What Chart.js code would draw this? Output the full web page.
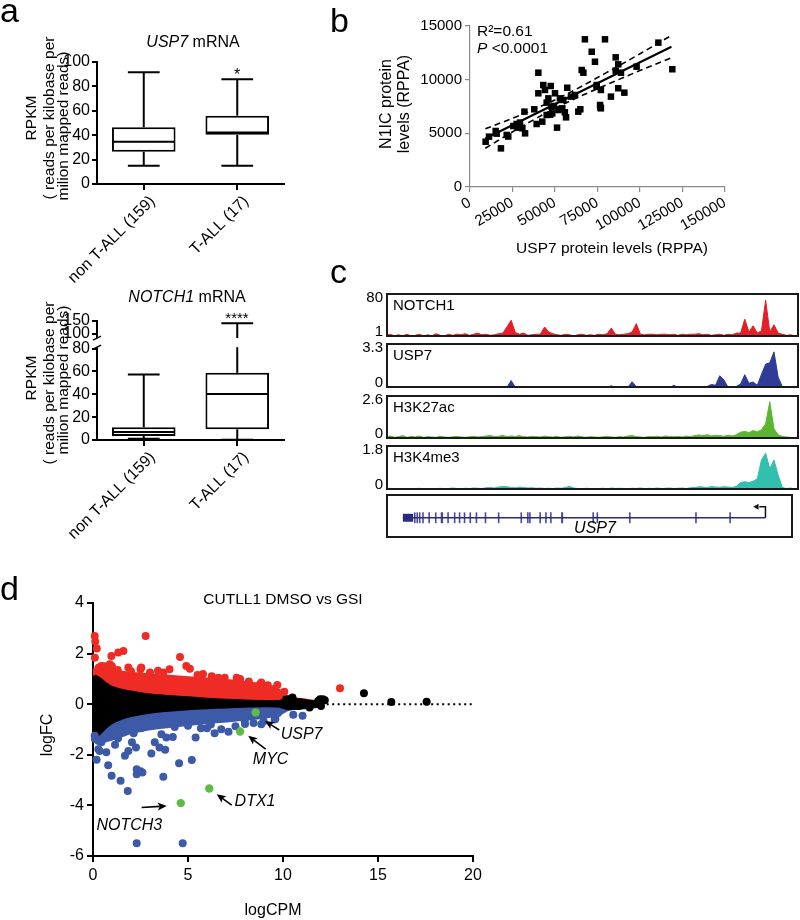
<!DOCTYPE html>
<html>
<head>
<meta charset="utf-8">
<title>USP7 / NOTCH1 figure</title>
<script src="https://cdn.jsdelivr.net/npm/chart.js@4.4.1/dist/chart.umd.min.js"></script>
<style>
  html, body { margin: 0; padding: 0; background: #fff; }
  #page { position: relative; width: 800px; height: 920px; overflow: hidden; background: #fff; }
  #page canvas { position: absolute; }
</style>
</head>
<body>
<div id="page"></div>
<script>
// ---------- panel a : box plots ----------
const groups = ['non T-ALL (159)', 'T-ALL (17)'];
const usp7Min = [15, 15];
const usp7Q1 = [26.5, 40.3];
const usp7Med = [34.7, 42.3];
const usp7Q3 = [46.5, 56];
const usp7Max = [91.5, 85.8];

const notchMin = [1, 0.3];
const notchQ1 = [3.5, 9.4];
const notchMed = [7, 40.2];
const notchQ3 = [11.1, 58.8];
const notchMax = [57.3, 141];
const notchTicks = [0, 20, 40, 60, 80, 100, 150];

// ---------- panel b : RPPA scatter ----------
const rppaPts = [
  [9200,4220],[11200,4690],[15100,5220],[15700,4970],[18200,3600],[21600,4850],[22500,4700],
  [25500,5680],[27400,5870],[28000,5530],[29400,6000],[30800,5470],[32400,5000],[32000,7020],
  [37800,7240],[39200,5870],[42500,6090],[40200,10650],[43100,9500],[44100,9040],[47500,9410],
  [40200,8730],[46100,8260],[45100,7860],[45100,6710],[48000,7480],[50000,8730],[49400,7550],
  [48400,6860],[47200,6740],[52900,8260],[52000,7170],[54300,7330],[54900,8110],[55800,6960],
  [56500,6490],[57200,9250],[51200,5530],[59400,8420],[61800,8570],[63700,7020],[64900,7240],
  [65700,10900],[66700,10650],[67600,13760],[71600,12600],[73500,11670],[74500,9340],[74500,9500],
  [76700,7420],[77000,7330],[76500,7640],[77000,9040],[79400,13760],[82900,8420],[85700,12080],
  [87200,11430],[85700,10840],[88800,10650],[87200,9200],[90800,8790],[98000,11210],
  [110800,13450],[119000,10970]
];
const fitX = [9000, 118500];
const fitY = [4514, 13077];
const bandX = [9000, 30000, 55000, 80000, 100000, 118500];
const bandUpper = [5420, 6720, 8500, 10630, 12410, 14130];
const bandLower = [3610, 5600, 7720, 9500, 10850, 12030];

// ---------- panel c : ChIP-seq tracks (100 bins across the locus) ----------
const notch1Signal = [
  4,6,3,5,3,6,3,4,6,3, 5,3,7,4,3,6,4,6,5,7, 4,6,8,5,6,4,5,7,8,19, 31,9,6,8,4,5,6,6,19,10,
  7,5,4,6,5,3,5,6,4,5, 4,6,5,7,17,6,5,6,7,10, 25,6,5,6,6,5,6,6,5,6, 4,6,5,6,6,7,5,6,4,5,
  6,4,6,5,8,8,33,10,21,8, 12,67,10,23,8,6,4,5,3,4
];
const usp7Signal = [
  .06,.05,.07,.04,.05,.03,.03,.05,.02,.03, .02,.03,.02,.02,.03,.02,.02,.04,.02,.03,
  .02,.02,.03,.02,.02,.04,.02,.02,.03,.05, .55,.05,.02,.02,.02,.03,.02,.02,.02,.02,
  .02,.02,.03,.02,.02,.02,.02,.03,.02,.02, .02,.02,.03,.02,.17,.03,.02,.03,.06,.46,
  .1,.05,.02,.02,.03,.02,.02,.03,.02,.2, .03,.05,.1,.06,.08,.03,.04,.12,.26,.2,
  .9,.6,.05,.04,.12,.3,.98,.35,.44,.2, 1.0,1.75,1.85,2.65,.8,.1,.03,.02,.02,.1
];
const h3k27acSignal = [
  .12,.18,.1,.14,.2,.1,.15,.12,.17,.1, .14,.12,.1,.16,.12,.1,.13,.15,.12,.1,
  .13,.16,.12,.14,.18,.2,.15,.16,.22,.14, .18,.15,.2,.13,.12,.16,.14,.12,.17,.14,
  .12,.15,.1,.13,.16,.12,.18,.13,.1,.14, .12,.1,.13,.15,.12,.1,.14,.12,.18,.2,
  .14,.12,.1,.15,.13,.16,.12,.18,.14,.13, .15,.12,.18,.14,.2,.24,.2,.25,.18,.22,
  .2,.16,.22,.18,.25,.4,.45,.38,.5,.42, .55,.9,2.2,.6,.25,.15,.12,.1,.08,.12
];
const h3k4me3Signal = [
  .05,.07,.04,.06,.05,.04,.06,.05,.07,.05, .04,.06,.05,.07,.05,.06,.08,.06,.05,.07,
  .06,.08,.07,.06,.09,.1,.08,.12,.14,.13, .1,.09,.12,.1,.08,.09,.07,.08,.06,.07,
  .06,.08,.07,.1,.15,.08,.06,.05,.07,.06, .05,.06,.07,.05,.08,.06,.07,.06,.05,.07,
  .06,.08,.05,.07,.06,.08,.06,.07,.08,.06, .07,.08,.06,.09,.1,.13,.12,.1,.14,.12,
  .11,.13,.12,.1,.15,.3,.33,.3,.35,.45, 1.2,1.47,.85,1.2,.6,.1,.06,.08,.04,.05
];
// gene model, same bin units
const exonPos = [7.0,7.6,8.2,9.0,10.5,12.1,13.5,13.7,15.1,16.7,17.9,19.1,20.5,22.0,24.2,27.4,
  32.9,34.5,35.0,37.5,38.9,40.1,42.8,42.9,50.4,51.4,59.3,75.4,83.7];
const utrSpan = [4.1, 6.6];
const geneSpan = [4.1, 92.3];
const tssArrowTip = 90.2;

// ---------- panel d : MA plot ----------
const envX     = [0, 0.15, 0.4, 0.7, 1, 1.5, 2, 3, 4, 5, 6, 7, 8, 9, 9.8, 10.3, 10.8, 11.4, 12.1];
const blackTop = [1.05, 1.12, 1.0, 0.82, 0.68, 0.57, 0.5, 0.38, 0.32, 0.27, 0.22, 0.18, 0.15, 0.13, 0.13, 0.22, 0.2, 0.14, 0.08];
const blackBot = [-1.2, -1.28, -1.15, -0.92, -0.75, -0.58, -0.47, -0.34, -0.26, -0.2, -0.16, -0.13, -0.1, -0.08, -0.1, -0.2, -0.17, -0.13, -0.06];
const redTop   = [1.35, 1.4, 1.42, 1.38, 1.32, 1.27, 1.22, 1.16, 1.1, 1.05, 1.0, 0.94, 0.86, 0.74, 0.55, 0.22, 0.2, 0.14, 0.08];
const blueBot  = [-1.4, -1.5, -1.5, -1.45, -1.38, -1.25, -1.12, -0.97, -0.88, -0.8, -0.73, -0.66, -0.6, -0.52, -0.4, -0.2, -0.17, -0.13, -0.06];
const upGenes = [
  [0.09,2.7],[0.12,2.48],[0.2,2.2],[0.1,1.84],[0.44,1.51],[0.88,1.58],[0.97,1.91],[1.33,2.04],[1.6,2.1],
  [1.0,1.5],[1.86,1.45],[2.5,1.38],[2.54,1.45],[2.77,2.7],[3.42,1.32],[4.03,1.38],[4.58,1.87],[4.91,1.51],
  [5.1,1.4],[5.79,1.19],[6.25,1.1],[6.93,1.05],[7.56,1.05],[7.74,1.0],[8.79,0.79],[8.86,0.86],[9.7,0.76],
  [10.07,0.49],[13.0,0.63],[0.3,1.45],[0.6,1.5],[1.3,1.35],[2.0,1.3],[3.0,1.25],[3.7,1.25],[5.5,1.15],
  [6.6,1.05],[8.2,0.9],[9.2,0.75],[9.5,0.6]
];
const downGenes = [
  [0.09,-1.25],[0.1,-1.38],[0.3,-1.45],[0.28,-1.78],[0.19,-2.2],[0.35,-1.85],[0.44,-1.5],[0.7,-1.9],
  [0.8,-2.41],[0.85,-1.3],[0.98,-2.83],[1.16,-1.6],[1.32,-1.35],[1.45,-3.03],[1.68,-2.04],[1.83,-3.43],
  [1.86,-1.85],[2.05,-1.5],[2.14,-1.15],[2.26,-1.71],[2.3,-2.57],[2.3,-2.77],[2.5,-2.65],[2.6,-2.7],
  [2.3,-5.5],[2.54,-0.95],[3.07,-1.95],[3.07,-0.85],[3.25,-1.5],[3.5,-1.71],[3.6,-1.19],[3.7,-2.87],
  [3.8,-1.8],[3.86,-1.32],[4.2,-1.3],[4.3,-0.9],[4.53,-2.33],[4.72,-5.5],[5.0,-0.85],[5.2,-2.21],
  [5.4,-1.32],[5.68,-0.95],[6.0,-0.95],[6.2,-0.8],[6.4,-1.15],[6.75,-0.99],[7.13,-1.09],[7.5,-0.87],
  [7.98,-0.65],[8.0,-0.78],[8.45,-0.74],[8.86,-0.79],[8.98,-0.67],[9.56,-0.6],[9.6,-0.58],[9.74,-0.35],
  [10.54,-0.42],[11.03,-0.46]
];
const flatGenes = [[10.17,0.2],[10.3,0.2],[10.5,0.26],[10.8,-0.07],[10.95,0.07],[11.4,0],[11.4,-0.13],
  [11.85,0.13],[11.95,0.2],[12.0,-0.07],[12.1,0.2],[12.2,0.16],[14.26,0.43],[15.7,0.09],[17.56,0.1]];
const markedNames = ['USP7', 'MYC', 'DTX1', 'NOTCH3'];
const markedGenes = [[8.56,-0.33],[7.74,-1.08],[6.12,-3.33],[4.62,-3.91]];

// ---------- shared setup ----------
const FONT = "'Liberation Sans', Arial, Helvetica, sans-serif";
Chart.defaults.font.family = FONT;
Chart.defaults.color = '#000';
Chart.defaults.animation = false;
Chart.defaults.responsive = false;
Chart.defaults.plugins.legend.display = false;
Chart.defaults.plugins.tooltip.enabled = false;

const page = document.getElementById('page');
// canvas at page position; notes (text) are kept on the canvas itself
function place(left, top, w, h, notes) {
  const c = document.createElement('canvas');
  c.width = w; c.height = h;
  c.style.left = left + 'px'; c.style.top = top + 'px';
  c.pageLeft = left; c.pageTop = top;
  c.notes = notes || [];
  page.appendChild(c);
  return c;
}
const xy = pts => pts.map(p => ({ x: p[0], y: p[1] }));

// text in page coordinates (pos) or data coordinates (at)
const notesPlugin = {
  id: 'notes',
  afterDraw(chart) {
    const items = chart.canvas.notes;
    if (!items || !items.length) return;
    const ctx = chart.ctx;
    items.forEach(n => {
      let x, y;
      if (n.at) { x = chart.scales.x.getPixelForValue(n.at[0]); y = chart.scales.y.getPixelForValue(n.at[1]); }
      else { x = n.pos[0] - chart.canvas.pageLeft; y = n.pos[1] - chart.canvas.pageTop; }
      ctx.save();
      ctx.translate(x, y);
      if (n.rot) ctx.rotate(n.rot * Math.PI / 180);
      ctx.fillStyle = '#000';
      ctx.textBaseline = n.base || 'middle';
      ctx.textAlign = 'left';
      const size = n.size || 16;
      const runs = typeof n.text === 'string' ? [[n.text, n.italic]] : n.text;
      const fonts = runs.map(r => (r[1] ? 'italic ' : '') + size + 'px ' + FONT);
      const widths = runs.map((r, i) => { ctx.font = fonts[i]; return ctx.measureText(r[0]).width; });
      const total = widths.reduce((s, w) => s + w, 0);
      let cx = n.align === 'left' ? 0 : (n.align === 'right' ? -total : -total / 2);
      runs.forEach((r, i) => { ctx.font = fonts[i]; ctx.fillText(r[0], cx, 0); cx += widths[i]; });
      ctx.restore();
    });
  }
};

// whiskers + medians on top of floating bars
const whiskers = {
  id: 'whiskers',
  afterDatasetsDraw(chart, args, o) {
    if (!o.med) return;
    const ctx = chart.ctx, y = chart.scales.y;
    const f = o.map || (v => v);
    const py = v => y.getPixelForValue(f(v));
    const seg = (x1, y1, x2, y2) => { ctx.beginPath(); ctx.moveTo(x1, y1); ctx.lineTo(x2, y2); ctx.stroke(); };
    ctx.save();
    ctx.strokeStyle = '#000'; ctx.lineWidth = 2;
    chart.getDatasetMeta(0).data.forEach((bar, i) => {
      const cx = bar.x, hw = bar.width / 2, cap = hw / 2;
      seg(cx, py(o.q3[i]), cx, py(o.max[i]));
      seg(cx, py(o.q1[i]), cx, py(o.min[i]));
      seg(cx - cap, py(o.max[i]), cx + cap, py(o.max[i]));
      seg(cx - cap, py(o.min[i]), cx + cap, py(o.min[i]));
      seg(cx - hw + 1, py(o.med[i]), cx + hw - 1, py(o.med[i]));
    });
    ctx.restore();
  }
};

// broken y axis (white gap + marks)
const axisBreak = {
  id: 'axisBreak',
  afterDraw(chart, args, o) {
    if (!o.gap) return;
    const { ctx, chartArea: a, scales: { y } } = chart;
    const yHi = y.getPixelForValue(o.map(o.gap[1])), yLo = y.getPixelForValue(o.map(o.gap[0]));
    ctx.save();
    ctx.fillStyle = '#fff';
    ctx.fillRect(a.left - 3, yHi, a.right - a.left + 3, yLo - yHi);
    ctx.strokeStyle = '#000'; ctx.lineWidth = 1.5;
    [yHi, yLo].forEach(yy => { ctx.beginPath(); ctx.moveTo(a.left - 4, yy + 2); ctx.lineTo(a.left + 4, yy - 2); ctx.stroke(); });
    ctx.restore();
  }
};

// frame + range labels for genome tracks
const trackFrame = {
  id: 'trackFrame',
  afterDraw(chart, args, o) {
    if (!o.frame) return;
    const { ctx, chartArea: a } = chart;
    ctx.save();
    ctx.strokeStyle = '#1a1a1a'; ctx.lineWidth = 2;
    ctx.strokeRect(a.left + 1, a.top + 1, a.width - 2, a.height - 2);
    ctx.fillStyle = '#000'; ctx.font = '15px ' + FONT;
    if (o.name) {
      ctx.textBaseline = 'top'; ctx.textAlign = 'left';
      ctx.fillText(o.name, a.left + 7, a.top + 5);
      const y = chart.scales.y;
      ctx.textAlign = 'right'; ctx.textBaseline = 'middle';
      ctx.fillText(String(y.max), a.left - 3, a.top + 5);
      ctx.fillText(String(y.min), a.left - 3, a.bottom - 5);
    }
    ctx.restore();
  }
};

// annotation arrows in data coordinates
const arrows = {
  id: 'arrows',
  afterDatasetsDraw(chart, args, o) {
    if (!o.list) return;
    const { ctx, scales: { x, y } } = chart;
    ctx.save();
    ctx.strokeStyle = '#000'; ctx.fillStyle = '#000'; ctx.lineWidth = 1.6;
    o.list.forEach(([from, to]) => {
      const x1 = x.getPixelForValue(from[0]), y1 = y.getPixelForValue(from[1]);
      const x2 = x.getPixelForValue(to[0]), y2 = y.getPixelForValue(to[1]);
      const ang = Math.atan2(y2 - y1, x2 - x1);
      const hx = x2 - 7 * Math.cos(ang), hy = y2 - 7 * Math.sin(ang);
      ctx.beginPath(); ctx.moveTo(x1, y1); ctx.lineTo(hx, hy); ctx.stroke();
      ctx.beginPath();
      ctx.moveTo(x2, y2);
      ctx.lineTo(x2 - 9 * Math.cos(ang) + 4 * Math.sin(ang), y2 - 9 * Math.sin(ang) - 4 * Math.cos(ang));
      ctx.lineTo(hx, hy);
      ctx.lineTo(x2 - 9 * Math.cos(ang) - 4 * Math.sin(ang), y2 - 9 * Math.sin(ang) + 4 * Math.cos(ang));
      ctx.closePath(); ctx.fill();
    });
    ctx.restore();
  }
};
Chart.register(notesPlugin, whiskers, axisBreak, trackFrame, arrows);

const blackAxis = {
  border: { display: true, color: '#000', width: 2 },
  grid: { display: true, drawOnChartArea: false, drawTicks: true, tickLength: 5, lineWidth: 2, color: '#000', offset: false }
};

// ---------- panel a ----------
function boxChart(box, area, st, yOpts, notes, brkOpts) {
  const [left, top, w, h] = box;
  const map = st.map || (v => v);
  return new Chart(place(left, top, w, h, notes), {
    type: 'bar',
    data: {
      labels: groups,
      datasets: [{
        data: st.q1.map((q, i) => [map(q), map(st.q3[i])]),
        backgroundColor: '#fff', borderColor: '#000', borderWidth: 2, borderSkipped: false,
        barPercentage: 0.68, categoryPercentage: 1
      }]
    },
    options: {
      layout: { padding: { top: area.top - top, right: left + w - area.right, left: 0, bottom: 0 } },
      plugins: { whiskers: st, axisBreak: brkOpts || {} },
      scales: {
        x: Object.assign({}, blackAxis, {
          grid: Object.assign({}, blackAxis.grid, { tickLength: 6 }),
          ticks: { font: { size: 16 }, minRotation: 45, maxRotation: 45, padding: 2, labelOffset: 9 },
          afterFit: s => { s.height = top + h - area.bottom; }
        }),
        y: Object.assign({}, blackAxis, yOpts, {
          afterFit: s => { s.width = area.left - left; }
        })
      }
    }
  });
}

boxChart([0, 0, 300, 300], { left: 97, top: 62, right: 284, bottom: 184 },
  { q1: usp7Q1, q3: usp7Q3, med: usp7Med, min: usp7Min, max: usp7Max },
  { min: 0, max: 100, ticks: { stepSize: 20, font: { size: 16 }, padding: 2 } },
  [
    { text: 'a', pos: [0, 22], size: 34, align: 'left', base: 'alphabetic' },
    { text: [['USP7', true], [' mRNA', false]], pos: [193, 43], size: 16 },
    { text: '*', pos: [237, 76], size: 16 },
    { text: 'RPKM', pos: [32, 118], size: 15.5, rot: -90 },
    { text: '( reads per kilobase per', pos: [50, 118], size: 15.5, rot: -90 },
    { text: 'milion mapped reads)', pos: [64, 126], size: 15.5, rot: -90 }
  ]);

// axis with a break between 80 and 100
function brk(v) {
  if (v <= 80) return v;
  if (v <= 100) return 80 + (v - 80) * 0.6375;
  return 92.75 + (v - 100) * 0.229;
}
boxChart([0, 290, 300, 260], { left: 97, top: 321, right: 284, bottom: 440 },
  { q1: notchQ1, q3: notchQ3, med: notchMed, min: notchMin, max: notchMax, map: brk },
  { min: 0, max: brk(150),
    afterBuildTicks: s => { s.ticks = notchTicks.map(v => ({ value: brk(v) })); },
    ticks: { font: { size: 16 }, padding: 2, autoSkip: false, callback: (v, i) => String(notchTicks[i]) } },
  [
    { text: [['NOTCH1', true], [' mRNA', false]], pos: [187, 298], size: 16 },
    { text: '****', pos: [237, 319], size: 15 },
    { text: 'RPKM', pos: [32, 378], size: 15.5, rot: -90 },
    { text: '( reads per kilobase per', pos: [50, 383], size: 15.5, rot: -90 },
    { text: 'milion mapped reads)', pos: [64, 380], size: 15.5, rot: -90 }
  ],
  { gap: [82, 94.5], map: brk });

// ---------- panel b ----------
const grayAxis = {
  border: { display: true, color: '#8a8a8a', width: 1.2 },
  grid: { display: true, drawOnChartArea: false, drawTicks: true, tickLength: 5, lineWidth: 1.2, color: '#8a8a8a' }
};
new Chart(place(330, 0, 470, 290, [
  { text: 'b', pos: [330, 32], size: 34, align: 'left', base: 'alphabetic' },
  { text: 'c', pos: [330, 283], size: 34, align: 'left', base: 'alphabetic' },
  { text: 'R\u00b2=0.61', pos: [477, 32], size: 15.5, align: 'left' },
  { text: [['P', true], [' <0.0001', false]], pos: [477, 49], size: 15.5, align: 'left' },
  { text: 'N1IC protein', pos: [387, 104], size: 16, rot: -90 },
  { text: 'levels (RPPA)', pos: [405, 104], size: 16, rot: -90 },
  { text: 'USP7 protein levels (RPPA)', pos: [612, 249], size: 15.5 }
]), {
  type: 'scatter',
  data: {
    datasets: [
      { data: xy(rppaPts), pointStyle: 'rect', pointRadius: 4.6, backgroundColor: '#000', borderWidth: 0, order: 1 },
      { type: 'line', data: fitX.map((x, i) => ({ x, y: fitY[i] })), borderColor: '#000', borderWidth: 2.2, pointRadius: 0, order: 2 },
      { type: 'line', data: bandX.map((x, i) => ({ x, y: bandUpper[i] })), borderColor: '#000', borderWidth: 1.6,
        borderDash: [6, 4], pointRadius: 0, cubicInterpolationMode: 'monotone', order: 3 },
      { type: 'line', data: bandX.map((x, i) => ({ x, y: bandLower[i] })), borderColor: '#000', borderWidth: 1.6,
        borderDash: [6, 4], pointRadius: 0, cubicInterpolationMode: 'monotone', order: 3 }
    ]
  },
  options: {
    layout: { padding: { top: 26, right: 75, left: 0, bottom: 0 } },
    scales: {
      x: Object.assign({}, grayAxis, {
        min: 0, max: 150000,
        ticks: { stepSize: 25000, font: { size: 15 }, minRotation: 30, maxRotation: 30, padding: 2, callback: v => String(v) },
        afterFit: s => { s.height = 103; }
      }),
      y: Object.assign({}, grayAxis, {
        min: 0, max: 15000,
        ticks: { stepSize: 5000, font: { size: 15 }, padding: 3, callback: v => String(v) },
        afterFit: s => { s.width = 140; }
      })
    }
  }
});

// ---------- panel c ----------
const tracks = [
  { name: 'NOTCH1', top: 293, bottom: 337, min: 1, max: 80, color: '#e41f26', vals: notch1Signal },
  { name: 'USP7', top: 343, bottom: 388, min: 0, max: 3.3, color: '#2e3c98', vals: usp7Signal },
  { name: 'H3K27ac', top: 395, bottom: 439, min: 0, max: 2.6, color: '#5cb531', vals: h3k27acSignal },
  { name: 'H3K4me3', top: 445, bottom: 490, min: 0, max: 1.8, color: '#33bfae', vals: h3k4me3Signal }
];
const trackLeft = 386, trackRight = 799;
tracks.forEach(t => {
  new Chart(place(340, t.top - 10, 460, t.bottom - t.top + 20), {
    type: 'line',
    data: {
      labels: t.vals.map((v, i) => i),
      datasets: [{ data: t.vals, borderColor: t.color, backgroundColor: t.color, borderWidth: 1,
        fill: 'start', pointRadius: 0, tension: 0 }]
    },
    options: {
      layout: { padding: { top: 10, bottom: 10, left: trackLeft - 340, right: 800 - trackRight } },
      plugins: { trackFrame: { frame: true, name: t.name } },
      scales: { x: { display: false }, y: { display: false, min: t.min, max: t.max } }
    }
  });
});

// gene model
const geneY = -0.08, tssTop = 0.42;
new Chart(place(340, 484, 460, 64, [{ text: 'USP7', italic: true, pos: [595, 529], size: 16 }]), {
  type: 'line',
  data: {
    datasets: [
      { data: geneSpan.map(x => ({ x, y: geneY })), borderColor: '#2b2b7c', borderWidth: 1.5, pointRadius: 0 },
      { data: utrSpan.map(x => ({ x, y: geneY })), borderColor: '#2b2b7c', borderWidth: 8, borderCapStyle: 'butt', pointRadius: 0 },
      { data: exonPos.map(x => ({ x, y: geneY })), showLine: false, pointStyle: 'line', pointRadius: 5.4,
        pointRotation: 90, pointBorderWidth: 1.6, pointBorderColor: '#4a4a9a' },
      { data: [{ x: geneSpan[1], y: geneY }, { x: geneSpan[1], y: tssTop }, { x: tssArrowTip + 0.6, y: tssTop }],
        borderColor: '#111', borderWidth: 1.5, pointRadius: 0 },
      { data: [{ x: tssArrowTip, y: tssTop }], showLine: false, pointStyle: 'triangle', pointRotation: -90,
        pointRadius: 3.5, pointBackgroundColor: '#111', pointBorderWidth: 0 }
    ]
  },
  options: {
    layout: { padding: { top: 10, bottom: 10, left: trackLeft - 340, right: 800 - trackRight } },
    plugins: { trackFrame: { frame: true } },
    scales: { x: { type: 'linear', display: false, min: 0, max: 99 }, y: { display: false, min: -1, max: 1 } }
  }
});

// ---------- panel d ----------
const env = arr => envX.map((x, i) => ({ x, y: arr[i] }));
new Chart(place(0, 570, 500, 350, [
  { text: 'd', pos: [0, 600], size: 34, align: 'left', base: 'alphabetic' },
  { text: 'CUTLL1 DMSO vs GSI', pos: [283, 600], size: 15.5 },
  { text: 'logFC', pos: [48, 735], size: 16, rot: -90 },
  { text: 'logCPM', pos: [273, 911], size: 16 },
  { text: markedNames[0], italic: true, at: [10.98, -1.21], size: 16 },
  { text: markedNames[1], italic: true, at: [9.35, -2.2], size: 16 },
  { text: markedNames[2], italic: true, at: [8.53, -3.86], size: 16 },
  { text: markedNames[3], italic: true, at: [1.91, -4.78], size: 16 }
]), {
  type: 'line',
  data: {
    datasets: [
      { data: env(redTop), borderColor: '#ee2b24', backgroundColor: '#ee2b24', borderWidth: 3, fill: 'origin', pointRadius: 0, tension: 0.3, order: 20 },
      { data: env(blueBot), borderColor: '#3c5aa8', backgroundColor: '#3c5aa8', borderWidth: 3, fill: 'origin', pointRadius: 0, tension: 0.3, order: 20 },
      { data: env(blackTop), borderColor: '#000', backgroundColor: '#000', borderWidth: 2, fill: '+1', pointRadius: 0, tension: 0.3, order: 10 },
      { data: env(blackBot), borderColor: '#000', backgroundColor: '#000', borderWidth: 2, fill: false, pointRadius: 0, tension: 0.3, order: 10 },
      { data: [{ x: 12.3, y: 0 }, { x: 20, y: 0 }], borderColor: '#000', borderWidth: 2, borderDash: [2, 3.5], pointRadius: 0, order: 6 },
      { data: xy(flatGenes), showLine: false, pointRadius: 4, pointBackgroundColor: '#000', pointBorderWidth: 0, clip: false, order: 3 },
      { data: xy(upGenes), showLine: false, pointRadius: 4, pointBackgroundColor: '#ee2b24', pointBorderWidth: 0, clip: false, order: 2 },
      { data: xy(downGenes), showLine: false, pointRadius: 4, pointBackgroundColor: '#3c5aa8', pointBorderWidth: 0, clip: false, order: 2 },
      { data: xy(markedGenes), showLine: false, pointRadius: 4.2, pointBackgroundColor: '#5dbb46', pointBorderWidth: 0, clip: false, order: 1 }
    ]
  },
  options: {
    layout: { padding: { top: 33, right: 27, left: 0, bottom: 0 } },
    plugins: {
      arrows: { list: [
        [[9.8, -1.02], [9.05, -0.66]],
        [[9.09, -1.78], [8.17, -1.25]],
        [[7.3, -3.99], [6.51, -3.56]],
        [[2.56, -4.08], [3.88, -4.02]]
      ] }
    },
    scales: {
      x: Object.assign({}, blackAxis, {
        type: 'linear', min: 0, max: 20,
        grid: Object.assign({}, blackAxis.grid, { tickLength: 6 }),
        ticks: { stepSize: 5, font: { size: 16 }, padding: 4 },
        afterFit: s => { s.height = 64; }
      }),
      y: Object.assign({}, blackAxis, {
        min: -6, max: 4,
        grid: Object.assign({}, blackAxis.grid, { tickLength: 6 }),
        ticks: { stepSize: 2, font: { size: 16 }, padding: 3 },
        afterFit: s => { s.width = 93; }
      })
    }
  }
});
</script>
</body>
</html>
